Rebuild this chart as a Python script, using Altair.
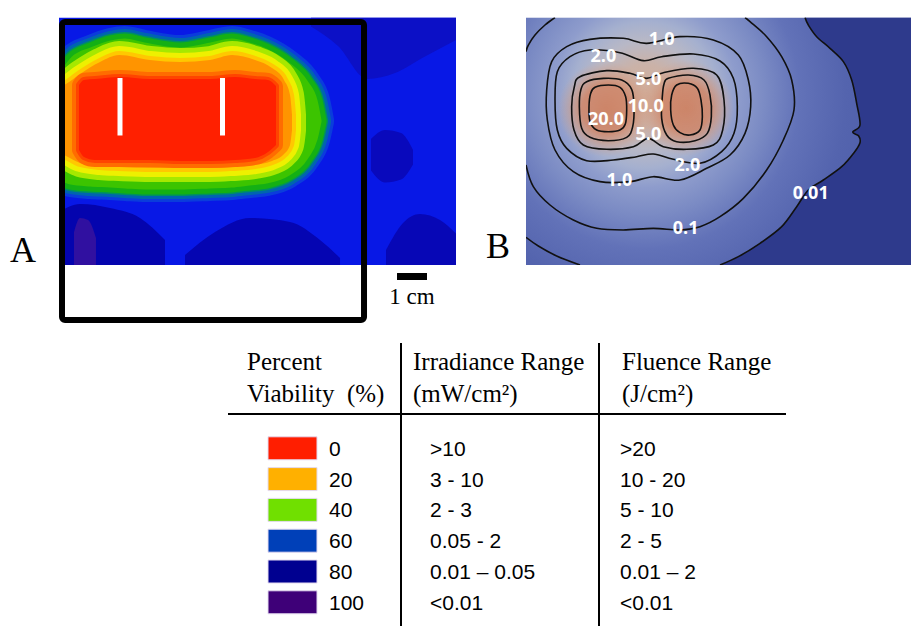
import altair as alt
import pandas as pd

# ================= Panel A : percent-viability map (units: mm, 10 mm = 1 cm) =================
A_W, A_H = 132.33, 82.5

# red core (0 % viability): x, upper edge, lower edge
core_x   = [6.67, 8.33, 12.0, 20.33, 30.33, 40.33, 50.33, 58.67, 65.33, 69.67, 72.33]
core_top = [22.5, 20.83, 20.5, 19.83, 20.5, 20.5, 20.5, 19.83, 20.5, 20.83, 22.83]
core_bot = [44.17, 46.5, 47.5, 47.5, 47.5, 47.83, 47.83, 47.5, 46.83, 44.83, 42.5]

# outer edge of the orange (~20 %) zone
orange_x   = [-1.33, 2.33, 7.0, 13.67, 20.0, 30.33, 40.33, 50.33, 57.67, 65.33, 71.0, 75.0, 77.0, 77.67]
orange_top = [23.5, 22.17, 18.83, 14.83, 12.5, 14.17, 14.83, 14.17, 12.5, 14.17, 16.83, 20.83, 25.83, 32.5]
orange_bot = [44.83, 46.17, 48.5, 49.5, 49.83, 50.17, 50.17, 50.17, 49.83, 49.17, 47.83, 45.5, 42.5, 37.5]

# outer edge of the green (~50 %) zone
green_x   = [-1.33, 3.67, 10.33, 17.0, 22.0, 28.67, 40.33, 50.33, 57.67, 63.67, 69.33, 77.0, 83.67, 87.0, 88.33]
green_top = [19.17, 12.5, 9.17, 6.83, 6.17, 7.5, 9.17, 7.5, 6.17, 7.5, 9.5, 14.17, 20.83, 27.5, 34.17]
green_bot = [54.83, 56.5, 57.17, 57.5, 57.83, 58.17, 58.17, 57.83, 57.5, 56.83, 56.17, 53.5, 47.5, 40.83, 34.83]

# darker (80-100 %) patches in the blue background
navy_x = [[0.0, 7.0, 17.0, 27.0, 35.33],
          [42.0, 52.0, 63.67, 77.0, 87.0, 93.67],
          [84.0, 93.0, 102.67, 112.0, 122.0, 132.33],
          [104.0, 108.67, 114.0, 118.0],
          [109.0, 114.67, 120.33, 127.0, 132.33],
          [5.0, 7.0, 9.67, 12.33]]
navy_top = [[64.83, 62.17, 63.5, 66.83, 74.17],
            [79.17, 71.5, 66.83, 68.17, 74.17, 80.17],
            [0.0, 0.0, 0.0, 0.0, 0.0, 0.0],
            [40.5, 37.5, 38.5, 44.17],
            [77.5, 68.5, 65.5, 67.5, 72.0],
            [71.5, 66.83, 67.5, 73.5]]
navy_bot = [[82.5, 82.5, 82.5, 82.5, 82.5],
            [82.5, 82.5, 82.5, 82.5, 82.5, 82.5],
            [3.0, 9.5, 20.5, 18.5, 13.0, 7.5],
            [51.0, 55.0, 54.0, 49.0],
            [82.5, 82.5, 82.5, 82.5, 82.5],
            [82.5, 82.5, 82.5, 82.5]]
navy_col = ["#0404ae", "#0505b2", "#0c10c6", "#0909bc", "#0707b6", "#3010a0"]

fiber_x = [20.33, 54.5]
fiber_y = [20.17, 39.33]
frame_x = [1.0, 101.67]
frame_y = [1.5, 100.83]
bar_x = [112.67, 122.67]
bar_y = [85.17, 87.5]

# ================= Panel B : irradiance contours (units: mm) =================
B_W, B_H = 128.33, 82.5

c20a_x = [23.0, 27.44, 31.33, 33.22, 33.56, 33.11, 31.33, 27.44, 23.56, 21.33, 21.0, 21.56]
c20a_y = [23.28, 22.5, 23.28, 26.39, 30.83, 35.5, 37.5, 38.06, 37.5, 34.72, 29.72, 25.28]
c20b_x = [50.22, 54.11, 57.11, 58.33, 58.78, 58.0, 54.67, 51.33, 49.11, 48.22, 48.56]
c20b_y = [22.5, 21.94, 23.61, 27.5, 33.06, 37.5, 39.17, 38.39, 35.83, 30.83, 25.83]
c10a_x = [20.22, 25.78, 31.89, 35.22, 36.0, 35.56, 33.56, 27.44, 21.33, 18.56, 17.78, 18.33]
c10a_y = [21.39, 20.28, 20.83, 23.94, 29.72, 36.39, 39.94, 41.06, 39.94, 36.94, 29.72, 23.94]
c10b_x = [47.44, 54.11, 59.33, 61.33, 61.78, 60.44, 56.33, 50.22, 46.89, 45.22, 45.44, 46.0]
c10b_y = [20.28, 19.17, 20.83, 25.83, 33.06, 38.61, 41.06, 41.39, 39.17, 33.61, 26.39, 22.17]
c5_x = [18.0, 26.89, 34.67, 40.22, 45.78, 55.78, 63.56, 66.0, 65.56, 62.44, 53.56, 45.78, 40.78,
        35.78, 26.89, 19.11, 16.0, 15.22, 16.11]
c5_y = [19.72, 17.72, 18.61, 20.28, 18.39, 16.94, 19.17, 27.5, 37.5, 42.5, 43.94, 43.06, 40.28,
        43.06, 43.94, 42.5, 37.5, 29.72, 23.06]
c2_x = [10.44, 14.67, 21.33, 31.33, 39.11, 45.22, 55.78, 64.67, 69.11, 70.44, 69.33, 65.22, 58.0,
        49.11, 42.44, 36.89, 29.11, 20.22, 13.56, 10.44, 9.67]
c2_y = [18.06, 13.06, 10.83, 11.72, 14.39, 13.06, 12.17, 14.5, 20.28, 29.72, 38.61, 44.72, 48.61,
        47.28, 45.5, 46.39, 47.5, 47.72, 43.61, 37.5, 27.5]
c1_x = [8.56, 13.56, 21.33, 32.44, 40.22, 51.33, 62.44, 70.78, 74.11, 74.89, 73.0, 68.0, 60.22,
        51.33, 42.44, 34.67, 24.67, 15.78, 9.67, 7.11, 6.89]
c1_y = [14.72, 9.72, 7.28, 6.94, 8.61, 6.39, 7.5, 12.5, 20.83, 29.72, 38.61, 45.83, 50.28,
        54.17, 53.06, 54.72, 54.72, 51.39, 44.17, 34.17, 24.17]
# open contour pieces (they leave the field of view)
c01a_x = [9.67, 6.33, 3.0, 0.78, 0.0]
c01a_y = [0.0, 2.5, 5.83, 9.17, 11.39]
c01b_x = [0.0, 2.44, 8.0, 15.78, 23.56, 32.44, 42.44, 51.33, 58.0, 64.67, 72.44, 80.22, 85.78,
          89.33, 88.56, 85.22, 80.22, 74.67, 73.0]
c01b_y = [49.17, 56.39, 62.5, 67.5, 70.28, 70.83, 70.28, 70.83, 69.72, 66.39, 60.28, 50.83, 40.83,
          30.83, 20.83, 13.06, 6.39, 1.39, 0.0]
c001a_x = [93.0, 94.11, 96.89, 101.33, 105.78, 108.56, 110.22, 111.33, 108.89, 110.89, 111.33,
           109.33, 105.22, 99.11, 94.11, 90.22, 85.22, 78.0, 70.78, 64.67]
c001a_y = [0.0, 2.5, 6.39, 10.28, 14.72, 20.83, 28.61, 35.83, 38.17, 39.5, 41.72, 45.06, 49.72,
           54.17, 57.5, 63.06, 69.72, 75.28, 79.72, 82.5]
c001b_x = [0.0, 4.11, 10.22, 18.0]
c001b_y = [73.28, 76.17, 79.5, 82.5]

lab_text = ["1.0", "2.0", "5.0", "10.0", "20.0", "5.0", "2.0", "1.0", "0.01", "0.1"]
lab_x = [45.22, 25.78, 40.78, 39.89, 26.67, 40.78, 53.78, 31.11, 94.89, 53.22]
lab_y = [7.5, 13.06, 20.83, 29.72, 34.17, 39.17, 49.39, 54.5, 58.94, 70.61]

core_cx = [26.67, 53.33]
core_cy = [30.5, 30.17]

# ================= Table =================
viability = ["0", "20", "40", "60", "80", "100"]
palette = ["#ff1e00", "#ffb000", "#70e000", "#0040b8", "#000090", "#3e0078"]
irradiance = [">10", "3 - 10", "2 - 3", "0.05 - 2", "0.01 \u2013 0.05", "<0.01"]
fluence = [">20", "10 - 20", "5 - 10", "2 - 5", "0.01 \u2013 2", "<0.01"]
headers = ["Percent\nViability\u00a0\u00a0(%)", "Irradiance Range\n(mW/cm\u00b2)", "Fluence Range\n(J/cm\u00b2)"]

# ---------------------------------------------------------------------------------------------
def X(f, dom):
    return alt.X(f, scale=alt.Scale(domain=[0, dom], nice=False, zero=False), axis=None)


def Y(f, dom):
    return alt.Y(f, scale=alt.Scale(domain=[0, dom], nice=False, zero=False, reverse=True), axis=None)


def area(df, **kw):
    return alt.Chart(df).mark_area(interpolate="monotone", clip=True, **kw).encode(
        x=X("x:Q", A_W), y=Y("top:Q", A_H), y2="bot:Q")


# ---------------- Panel A ----------------
box_A = pd.DataFrame({"x0": [0.0], "x1": [A_W], "y0": [0.0], "y1": [A_H]})
core_df = pd.DataFrame({"x": core_x, "top": core_top, "bot": core_bot})
orange_df = pd.DataFrame({"x": orange_x, "top": orange_top, "bot": orange_bot})
green_df = pd.DataFrame({"x": green_x, "top": green_top, "bot": green_bot})

layersA = [
    alt.Chart(box_A).mark_rect(fill="#0818e6", clip=True).encode(
        x=X("x0:Q", A_W), x2="x1:Q", y=Y("y0:Q", A_H), y2="y1:Q"),
]
for xs, ts, bs, col in zip(navy_x, navy_top, navy_bot, navy_col):
    layersA.append(area(pd.DataFrame({"x": xs, "top": ts, "bot": bs}), fill=col))
for w, c in [(20, "#0a3cdc"), (14, "#0064b0"), (8, "#009060")]:
    layersA.append(area(green_df, fill=c, stroke=c, strokeWidth=w, strokeJoin="round"))
layersA.append(area(green_df, fill="#3cc400", stroke="#14b014", strokeWidth=5, strokeJoin="round"))
for w, c in [(28, "#a6e800"), (18, "#eef000"), (8, "#ffc800")]:
    layersA.append(area(orange_df, fill=c, stroke=c, strokeWidth=w, strokeJoin="round"))
layersA.append(area(orange_df, fill="#ff9400"))
for w, c in [(14, "#ff6c00"), (6, "#ff4400")]:
    layersA.append(area(core_df, fill=c, stroke=c, strokeWidth=w, strokeJoin="round"))
layersA.append(area(core_df, fill="#ff2000"))

fib_df = pd.DataFrame({"x": fiber_x, "y0": [fiber_y[0]] * 2, "y1": [fiber_y[1]] * 2})
layersA.append(alt.Chart(fib_df).mark_rule(color="white", strokeWidth=5).encode(
    x=X("x:Q", A_W), y=Y("y0:Q", A_H), y2="y1:Q"))
frame_df = pd.DataFrame({"x0": [frame_x[0]], "x1": [frame_x[1]], "y0": [frame_y[0]], "y1": [frame_y[1]]})
layersA.append(alt.Chart(frame_df).mark_rect(fillOpacity=0, stroke="black", strokeWidth=6, cornerRadius=3).encode(
    x=X("x0:Q", A_W), x2="x1:Q", y=Y("y0:Q", A_H), y2="y1:Q"))
bar_df = pd.DataFrame({"x0": [bar_x[0]], "x1": [bar_x[1]], "y0": [bar_y[0]], "y1": [bar_y[1]],
                       "xm": [(bar_x[0] + bar_x[1]) / 2], "yt": [95.5], "t": ["1 cm"]})
layersA.append(alt.Chart(bar_df).mark_rect(color="black").encode(
    x=X("x0:Q", A_W), x2="x1:Q", y=Y("y0:Q", A_H), y2="y1:Q"))
layersA.append(alt.Chart(bar_df).mark_text(font="Liberation Serif", fontSize=23, align="center",
                                           baseline="alphabetic", color="black").encode(
    x=X("xm:Q", A_W), y=Y("yt:Q", A_H), text="t:N"))
layersA.append(alt.Chart(pd.DataFrame({"x": [-16.33], "y": [81.5], "t": ["A"]})).mark_text(
    font="Liberation Serif", fontSize=36, align="left", baseline="alphabetic", color="black").encode(
    x=X("x:Q", A_W), y=Y("y:Q", A_H), text="t:N"))
panelA = alt.layer(*layersA).properties(width=397, height=247.5)

# ---------------- Panel B ----------------
box_B = pd.DataFrame({"x0": [0.0], "x1": [B_W], "y0": [0.0], "y1": [B_H]})
stops = [(0.0, "#d2ae9a"), (0.08, "#cab2a8"), (0.14, "#b8b8c6"), (0.19, "#a5b0cf"), (0.24, "#8e9ccc"),
         (0.31, "#7b8bc4"), (0.40, "#6272b8"), (0.52, "#5464ae"), (0.72, "#4a5aa8"), (1.0, "#4555a5")]
bg_grad = alt.RadialGradient(gradient="radial", x1=0.31, y1=0.38, r1=0, x2=0.31, y2=0.38, r2=1,
                             stops=[alt.GradientStop(offset=o, color=c) for o, c in stops])
glow = alt.RadialGradient(gradient="radial", x1=0.5, y1=0.5, r1=0, x2=0.5, y2=0.5, r2=0.5,
                          stops=[alt.GradientStop(offset=0.0, color="rgba(205,130,100,0.95)"),
                                 alt.GradientStop(offset=0.5, color="rgba(207,136,108,0.9)"),
                                 alt.GradientStop(offset=0.7, color="rgba(208,150,125,0.6)"),
                                 alt.GradientStop(offset=1.0, color="rgba(208,165,145,0)")])

dark_df = pd.DataFrame({"x": c001a_x, "y": c001a_y, "xr": [B_W] * len(c001a_x)})
cores_df = pd.DataFrame({"x": core_cx, "y": core_cy})

loop_rows = []
for name, xs, ys in [("20a", c20a_x, c20a_y), ("20b", c20b_x, c20b_y), ("10a", c10a_x, c10a_y),
                     ("10b", c10b_x, c10b_y), ("5", c5_x, c5_y), ("2", c2_x, c2_y), ("1", c1_x, c1_y)]:
    for k, (a, b) in enumerate(zip(xs, ys)):
        loop_rows.append({"loop": name, "ord": k, "x": a, "y": b})
loops_df = pd.DataFrame(loop_rows)
open_rows = []
for name, xs, ys in [("01a", c01a_x, c01a_y), ("01b", c01b_x, c01b_y),
                     ("001a", c001a_x, c001a_y), ("001b", c001b_x, c001b_y)]:
    for k, (a, b) in enumerate(zip(xs, ys)):
        open_rows.append({"piece": name, "ord": k, "x": a, "y": b})
open_df = pd.DataFrame(open_rows)
labs_df = pd.DataFrame({"x": lab_x, "y": lab_y, "t": lab_text})

layersB = [
    alt.Chart(box_B).mark_rect(fill=bg_grad, clip=True).encode(
        x=X("x0:Q", B_W), x2="x1:Q", y=Y("y0:Q", B_H), y2="y1:Q"),
    alt.Chart(dark_df).mark_area(orient="horizontal", interpolate="cardinal", fill="#2e3a8c", clip=True).encode(
        y=Y("y:Q", B_H), x=X("x:Q", B_W), x2="xr:Q"),
    alt.Chart(cores_df).mark_rect(width=96, height=96, fill=glow, clip=True).encode(
        x=X("x:Q", B_W), y=Y("y:Q", B_H)),
    alt.Chart(loops_df).mark_line(interpolate="cardinal-closed", color="#111111", strokeWidth=1.6, clip=True).encode(
        x=X("x:Q", B_W), y=Y("y:Q", B_H), detail="loop:N", order="ord:Q"),
    alt.Chart(open_df).mark_line(interpolate="cardinal", color="#111111", strokeWidth=1.6, clip=True).encode(
        x=X("x:Q", B_W), y=Y("y:Q", B_H), detail="piece:N", order="ord:Q"),
    alt.Chart(labs_df).mark_text(font="Open Sans", fontWeight="bold", fontSize=18, color="white",
                                 align="center", baseline="middle").encode(
        x=X("x:Q", B_W), y=Y("y:Q", B_H), text="t:N"),
    alt.Chart(pd.DataFrame({"x": [-13.33], "y": [80.17], "t": ["B"]})).mark_text(
        font="Liberation Serif", fontSize=36, align="left", baseline="alphabetic", color="black").encode(
        x=X("x:Q", B_W), y=Y("y:Q", B_H), text="t:N"),
]
panelB = alt.layer(*layersB).properties(width=385, height=247.5)

# ---------------- Table ----------------
rows_df = pd.DataFrame({"row": list(range(len(viability))), "viab": viability,
                        "irr": irradiance, "flu": fluence})
row_scale = alt.Scale(domain=[0, 5], range=[105.3, 259.3], nice=False, zero=False)
hdr_df = pd.DataFrame({"col": [0, 1, 2], "h": headers})
one = pd.DataFrame({"r": [0]})

layersT = [
    alt.Chart(one).mark_rule(color="black", strokeWidth=2).encode(
        x=alt.value(169), x2=alt.value(727), y=alt.value(71)),
    alt.Chart(one).mark_rule(color="black", strokeWidth=2).encode(
        x=alt.value(342), y=alt.value(0), y2=alt.value(283)),
    alt.Chart(one).mark_rule(color="black", strokeWidth=2).encode(
        x=alt.value(540), y=alt.value(0), y2=alt.value(283)),
    alt.Chart(rows_df).mark_rect(height=23, stroke="#e4daf0", strokeWidth=1).encode(
        x=alt.value(209), x2=alt.value(258), y=alt.Y("row:Q", scale=row_scale, axis=None),
        color=alt.Color("viab:N", scale=alt.Scale(domain=viability, range=palette), legend=None)),
]
for field, xpos in [("viab", 270), ("irr", 371), ("flu", 561)]:
    layersT.append(alt.Chart(rows_df).mark_text(font="Liberation Sans", fontSize=21, align="left",
                                                baseline="alphabetic", dy=7.4, color="black").encode(
        x=alt.value(xpos), y=alt.Y("row:Q", scale=row_scale, axis=None), text=f"{field}:N"))
for col, xpos in [(0, 188), (1, 354), (2, 563)]:
    layersT.append(alt.Chart(hdr_df).transform_filter(alt.datum.col == col).mark_text(
        font="Liberation Serif", fontSize=25, align="left", baseline="alphabetic",
        lineBreak="\n", lineHeight=32, color="black").encode(
        x=alt.value(xpos), y=alt.value(27), text="h:N"))
table = alt.layer(*layersT).properties(width=852, height=283)

# the nested (flush) row contributes no height, so the spacing is measured from the top of the panels
top_row = alt.hconcat(panelA, panelB, spacing=70, bounds="flush")
chart = alt.vconcat(top_row, table, spacing=325.5, bounds="flush").properties(
    padding={"left": 10, "top": 17.5, "right": 0, "bottom": 0}
).resolve_scale(color="independent").configure_view(strokeWidth=0)

chart.save("out.html", embed_options={"renderer": "svg", "actions": False})
